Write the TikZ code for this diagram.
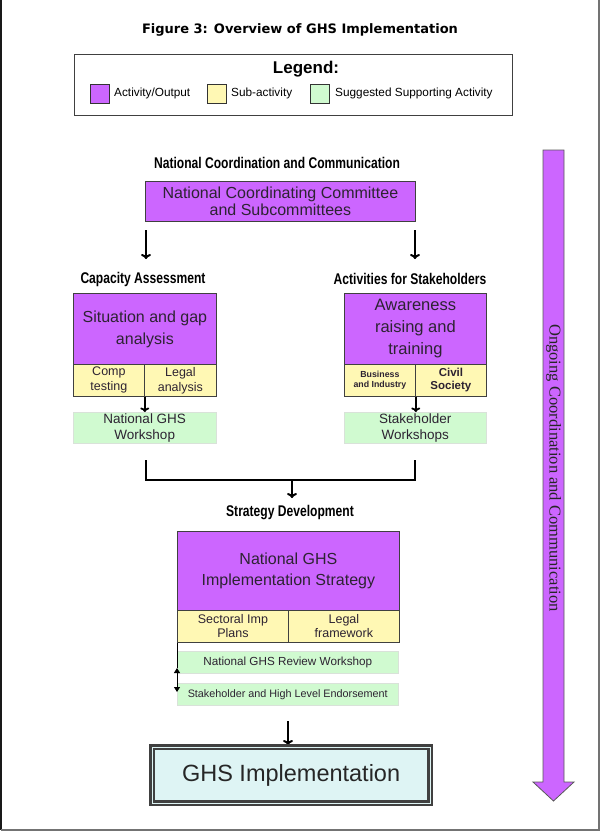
\documentclass[tikz,border=0pt]{standalone}
\usepackage{fontspec}
\setmainfont{Liberation Sans}
\newfontfamily\titlefont{DejaVu Sans}
\newfontfamily\headfont[FakeStretch=0.78]{Liberation Sans}
\newfontfamily\seriffont{Liberation Serif}
\usetikzlibrary{arrows.meta}
\definecolor{purp}{RGB}{204,102,255}
\definecolor{yel}{RGB}{255,248,180}
\definecolor{grn}{RGB}{208,250,208}
\definecolor{cyanl}{RGB}{222,244,244}
\definecolor{txt}{RGB}{45,35,50}
\newcommand{\fs}[2]{\fontsize{#1}{#2}\selectfont}
\begin{document}
\begin{tikzpicture}[x=1pt,y=-1pt,
  purbox/.style={draw=black!75,line width=0.8pt,fill=purp,text=txt,align=center,inner sep=0pt,anchor=north west},
  yelbox/.style={draw=black!75,line width=0.8pt,fill=yel,text=txt,align=center,inner sep=0pt,anchor=north west},
  grnbox/.style={draw=green!25!black!15,line width=0.5pt,fill=grn,text=txt,align=center,inner sep=0pt,anchor=north west},
  heading/.style={font=\headfont\bfseries\fs{15.5}{17},text=black},
  arr/.style={line width=2pt,-{To[length=5pt,width=10pt,line width=2pt]}},
  sarr/.style={line width=1.4pt,-{To[length=4.5pt,width=9pt,line width=1.8pt]}}]
\useasboundingbox (0,0) rectangle (600,831);
% outer frame
\draw[line width=2pt,black!90] (1,0) -- (1,830);
\draw[line width=1.2pt,black!55] (1,830) -- (599,830) -- (599,0);
% title
\node[font=\titlefont\bfseries\fs{13}{15}] (title) at (300,30) {Figure 3: Overview of GHS Implementation};
% legend
\node[draw=black!75,line width=1pt,minimum width=438pt,minimum height=61pt,anchor=north west,inner sep=0pt] (legend) at (74,54) {};
\node[font=\bfseries\fs{17}{19}] (legtitle) at (306,69) {Legend:};
\node[draw=black!80,line width=0.8pt,fill=purp,minimum width=19pt,minimum height=19pt,inner sep=0pt,anchor=north west] (sw1) at (90,84) {};
\node[draw=black!80,line width=0.8pt,fill=yel,minimum width=19pt,minimum height=19pt,inner sep=0pt,anchor=north west] (sw2) at (207,84) {};
\node[draw=black!80,line width=0.8pt,fill=grn,minimum width=19pt,minimum height=19pt,inner sep=0pt,anchor=north west] (sw3) at (310,84) {};
\node[font=\fs{11.8}{13},anchor=west,inner sep=0pt] (lt1) at (114,93) {Activity/Output};
\node[font=\fs{11.8}{13},anchor=west,inner sep=0pt] (lt2) at (231,93) {Sub-activity};
\node[font=\fs{11.8}{13},anchor=west,inner sep=0pt] (lt3) at (335,93) {Suggested Supporting Activity};
% national coordination
\node[heading] (h1) at (277,163) {National Coordination and Communication};
\node[purbox,minimum width=270pt,minimum height=40pt,font=\fs{16}{16.5}] (ncc) at (145,181) {National Coordinating Committee\\and Subcommittees};
\coordinate (a1s) at (146,230);
\coordinate (a1e) at (146,259);
\coordinate (a2s) at (415,230);
\coordinate (a2e) at (415,259);
\draw[arr] (a1s) -- (a1e);
\draw[arr] (a2s) -- (a2e);
% capacity assessment
\node[heading] (h2) at (143,279) {Capacity Assessment};
\node[purbox,minimum width=143pt,minimum height=71pt,font=\fs{16}{22}] (sit) at (73,293) {Situation and gap\\analysis};
\node[yelbox,minimum width=71pt,minimum height=32pt,font=\fs{12.5}{15}] (comp) at (73,364) {Comp\\testing};
\node[yelbox,minimum width=72pt,minimum height=32pt,font=\fs{12.5}{15}] (legal) at (144,364) {Legal\\analysis};
\node[grnbox,minimum width=143pt,minimum height=31pt,font=\fs{13.5}{16}] (ngw) at (73,412) {National GHS\\Workshop};
\draw[sarr] (comp.south east) -- (comp.south east |- ngw.north);
% stakeholders
\node[heading] (h3) at (410,279) {Activities for Stakeholders};
\node[purbox,minimum width=142pt,minimum height=71pt,font=\fs{16.5}{22}] (aware) at (344,293) {Awareness\\raising and\\training};
\node[yelbox,minimum width=71pt,minimum height=32pt,font=\bfseries\fs{8.8}{9.5}] (bus) at (344,364) {Business\\and Industry};
\node[yelbox,minimum width=71pt,minimum height=32pt,font=\bfseries\fs{11.5}{13}] (civ) at (415,364) {Civil\\Society};
\node[grnbox,minimum width=142pt,minimum height=31pt,font=\fs{13.5}{16}] (skw) at (344,412) {Stakeholder\\Workshops};
\draw[sarr] (bus.south east) -- (bus.south east |- skw.north);
% bracket
\coordinate (b1) at (146,460);
\coordinate (b2) at (146,480);
\coordinate (b3) at (415,480);
\coordinate (b4) at (415,460);
\coordinate (bm) at (292,480);
\coordinate (bme) at (292,498);
\draw[line width=2.5pt,line join=miter] (b1) -- (b2) -- (b3) -- (b4);
\draw[arr] (bm) -- (bme);
% strategy
\node[heading] (h4) at (290,513) {Strategy Development};
\node[purbox,minimum width=222pt,minimum height=79pt,font=\fs{16}{21}] (strat) at (177,531) {National GHS\\Implementation Strategy};
\node[yelbox,minimum width=111pt,minimum height=32pt,font=\fs{12.5}{14}] (sect) at (177,610) {Sectoral Imp\\Plans};
\node[yelbox,minimum width=111pt,minimum height=32pt,font=\fs{12.5}{14}] (legf) at (288,610) {Legal\\framework};
\node[grnbox,minimum width=221pt,minimum height=22pt,font=\fs{11.7}{13}] (rev) at (177,651) {National GHS Review Workshop};
\node[grnbox,minimum width=221pt,minimum height=22pt,font=\fs{10.8}{12}] (end) at (177,683) {Stakeholder and High Level Endorsement};
\coordinate (v1) at (177,668);
\coordinate (v2) at (177,692);
\draw[line width=0.8pt] (sect.south west) -- (v1);
\draw[line width=0.8pt,{Triangle[length=5pt,width=6pt]}-{Triangle[length=5pt,width=6pt]}] (v1) -- (v2);
\coordinate (a3s) at (288,721);
\draw[arr] (a3s) -- (288,745);
% GHS implementation
\node[draw=black!75,line width=2.2pt,double=cyanl,double distance=1.2pt,fill=cyanl,minimum width=278pt,minimum height=56pt,inner sep=0pt,anchor=north west,font=\fs{23.5}{26},text=black!85] (ghs) at (151,746) {GHS Implementation};
% big arrow
\draw[draw=black!65,line width=0.8pt,fill=purp] (543,150) -- (564,150) -- (564,782) -- (574,782) -- (553.5,801) -- (533,782) -- (543,782) -- cycle;
\node[rotate=-90,font=\seriffont\fs{16.5}{18},text=black!85] (ongoing) at (553.5,468) {Ongoing Coordination and Communication};
\end{tikzpicture}
\end{document}
